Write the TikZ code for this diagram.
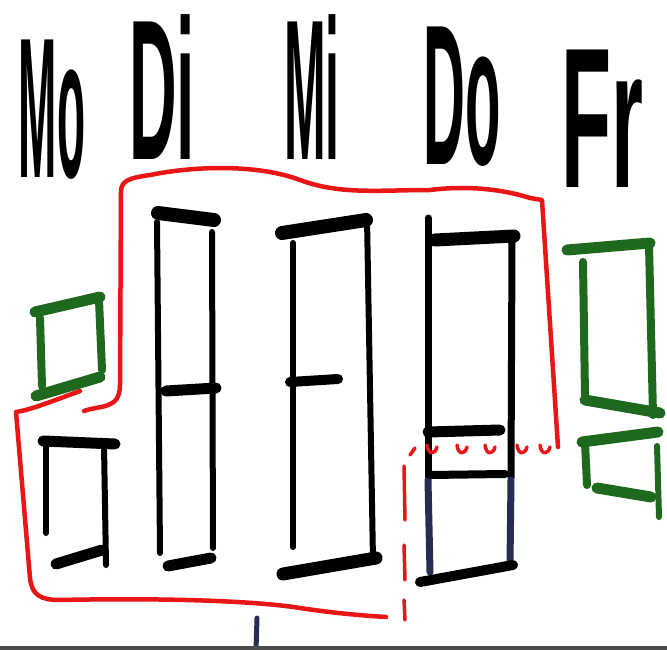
\documentclass[tikz,border=0pt]{standalone}
\usepackage{graphicx}
\usepackage{fontspec}
\setmainfont{Liberation Sans}
\definecolor{mkred}{RGB}{232,22,22}
\definecolor{mkgreen}{RGB}{30,105,30}
\definecolor{mknavy}{RGB}{38,44,82}
\newcommand{\wday}[2]{\scalebox{#1}[1]{#2}}
\begin{document}
\begin{tikzpicture}[x=1pt, y=-1pt, line cap=round, line join=round]
        \tikzset{
          day/.style={anchor=base, inner sep=0pt, font=\fontsize{200}{200}\selectfont\bfseries},
          side/.style={draw=black, line width=6pt},
          bar/.style ={draw=black, line width=11pt},
          gside/.style={draw=mkgreen, line width=8pt},
          gbar/.style ={draw=mkgreen, line width=11pt},
          rline/.style={draw=mkred, line width=4.5pt}
        }
        \useasboundingbox (0,0) rectangle (667,650);
        \fill[white] (0,0) rectangle (667,650);
        %% --- Wochentage ---
        \node[day] (mo) at (52,178) {\wday{0.23}{Mo}};
        \node[day] (di) at (162,160) {\wday{0.33}{Di}};
        \node[day] (mi) at (312,160) {\wday{0.25}{Mi}};
        \node[day] (do) at (462,165) {\wday{0.29}{Do}};
        \node[day] (fr) at (602,187) {\wday{0.41}{Fr}};
        %% --- Mo ---
        \draw[gbar]  (35,312) -- (100,297);
        \draw[gside] (40,318) -- (42,386);
        \draw[gside] (99,300) -- (102,370);
        \draw[gbar]  (36,396) -- (100,377);
        \draw[bar]   (43,441) -- (115,444);
        \draw[side]  (46,445) -- (46,533);
        \draw[side]  (104,445) -- (106,565);
        \draw[bar]   (56,564) -- (102,550);
        %% --- Di ---
        \draw[bar, line width=14pt] (158,213) -- (214,220);
        \draw[side] (157,222) -- (160,553);
        \draw[side] (212,232) -- (213,548);
        \draw[bar]  (166,391) -- (216,388);
        \draw[bar]  (168,566) -- (211,558);
        %% --- Mi ---
        \draw[bar, line width=14pt] (282,233) -- (366,220);
        \draw[side] (293,243) -- (293,547);
        \draw[side] (367,218) -- (373,560);
        \draw[bar, line width=10pt] (290,382) -- (338,379);
        \draw[bar, line width=13pt] (283,574) -- (376,558);
        %% --- Do ---
        \draw[bar, line width=13pt] (435,240) -- (514,236);
        \draw[side, line width=7pt] (428,218) -- (428,478);
        \draw[side, line width=7pt] (512,242) -- (511,478);
        \draw[side, line width=7pt, draw=mknavy] (428,480) -- (430,572);
        \draw[side, line width=7pt, draw=mknavy] (511,480) -- (510,565);
        \draw[bar]  (428,432) -- (500,430);
        \draw[bar, line width=8pt] (430,475) -- (505,474);
        \draw[bar, line width=10pt] (420,582) -- (513,565);
        %% --- Fr ---
        \draw[gbar]  (567,250) -- (650,243);
        \draw[gside] (649,245) -- (653,415);
        \draw[gside] (583,262) -- (585,396);
        \draw[gbar]  (585,400) -- (660,413);
        \draw[gbar]  (582,442) -- (658,432);
        \draw[gside] (585,443) -- (587,485);
        \draw[gbar]  (597,488) -- (651,497);
        \draw[gside, line width=6pt] (657,446) -- (659,517);
        %% --- rote Umrandung ---
        \draw[rline] (84,411) .. controls (100,405) and (120,410) .. (120,385)
          -- (121,192) .. controls (121,180) and (130,178) .. (150,175)
          .. controls (200,165) and (260,165) .. (300,180)
          .. controls (340,195) and (380,190) .. (430,190)
          .. controls (470,185) and (505,190) .. (530,198)
          -- (542,200) -- (558,447);
        \draw[rline] (80,391) .. controls (50,402) and (30,410) .. (16,412)
          -- (30,578) .. controls (32,595) and (40,600) .. (60,600)
          .. controls (150,598) and (250,600) .. (300,608)
          .. controls (340,614) and (370,616) .. (386,617);
        \foreach \x in {432,462,490,522,545}
          \draw[rline, line width=3.5pt] (\x-5,445) .. controls (\x-4,455) and (\x+3,455) .. (\x+5,447);
        \draw[rline, line width=3.5pt] (410,455) -- (415,448);
        \foreach \ya/\yb in {466/520, 545/580, 600/620}
          \draw[rline, line width=3.5pt] (404,\ya) -- (405,\yb);
        %% --- unten ---
        \draw[draw=mknavy, line width=5pt] (257,618) -- (256,650);
        \fill[black!70] (0,646) rectangle (667,650);
    \end{tikzpicture}
\end{document}
